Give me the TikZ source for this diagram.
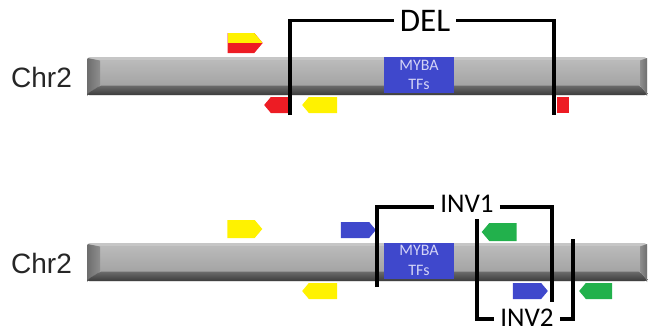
\documentclass[tikz,border=0pt]{standalone}
\usepackage{fontspec}
\setmainfont{Liberation Sans}
\newfontfamily\calib{Carlito}
\usetikzlibrary{shapes.symbols}
\definecolor{myYellow}{HTML}{FFF200}
\definecolor{myRed}{HTML}{ED1C24}
\definecolor{myBlue}{HTML}{3F48CC}
\definecolor{myGreen}{HTML}{22B14C}
\definecolor{tfText}{HTML}{D4D4F6}
\definecolor{faceTop}{HTML}{BABABA}
\definecolor{faceBot}{HTML}{A4A4A4}
\definecolor{edgeTop}{HTML}{C6C6C6}
\definecolor{sideL}{HTML}{8E8E8E}
\definecolor{sideLd}{HTML}{6E6E6E}
\definecolor{botTop}{HTML}{6C6C6C}
\definecolor{botBot}{HTML}{3C3C3C}
\tikzset{
  fwd/.style={signal, signal to=east, inner sep=0pt, minimum width=35pt, minimum height=#1, signal pointer angle=100, fill=myYellow, xshift=-3.5pt},
  fwd/.default=17pt,
  rev/.style={signal, signal to=west, inner sep=0pt, minimum width=35pt, minimum height=#1, signal pointer angle=100, fill=myYellow, xshift=3.5pt},
  rev/.default=16pt,
  bracket/.style={line width=3.2pt, line join=miter, draw=black},
  svlabel/.style={font=\calib\fontsize{#1}{#1}\selectfont, inner sep=0pt, inner xsep=6pt, text=black},
  chrlabel/.style={font=\fontsize{28}{28}\selectfont, text=black!85, inner sep=0pt},
  tfbox/.style={fill=myBlue, inner sep=0pt, minimum width=70pt, minimum height=36pt, text=tfText, align=center, font=\calib\fontsize{16}{19.5}\selectfont},
}
\newcommand\chrbar{%
  \fill[rounded corners=3pt, edgeTop] (87,57) rectangle (647,95);
  \shade[top color=faceTop, bottom color=faceBot] (100,60.5) rectangle (640,85.5);
  \shade[left color=sideLd, right color=sideL] (87.5,58) -- (100,60.5) -- (100,85.5) -- (87.5,94) -- cycle;
  \shade[top color=botTop, bottom color=botBot, rounded corners=2pt] (87,94) -- (100,85.5) -- (640,85.5) -- (647,94) -- (647,95) -- (87,95) -- cycle;
  \shade[left color=sideL, right color=sideLd] (640,60.5) -- (647,58) -- (647,94) -- (640,85.5) -- cycle;
}
\begin{document}
\begin{tikzpicture}[x=1pt, y=-1pt]
\useasboundingbox (0,0) rectangle (648,333);
% ---------- top chromosome ----------
\chrbar
\node[chrlabel] (chrA) at (41.5,77) {Chr2};
\node[tfbox] (tfA) at (419,75) {MYBA\\TFs};
\node[fwd=20pt, fill=myRed, path picture={\fill[myYellow] (path picture bounding box.north west) rectangle ([yshift=0.5pt]path picture bounding box.east);}] (yrA) at (244.5,43) {};
\node[rev, fill=myRed, minimum width=24pt, xshift=-1pt] (rA) at (277,105) {};
\node[rev] (yA) at (319.5,105) {};
\node[fill=myRed, inner sep=0pt, minimum width=12pt, minimum height=16pt] (sqA) at (563,105) {};
\node[svlabel=33] (del) at (425,20.5) {DEL};
\coordinate (delL) at (290,115);
\coordinate (delR) at (554,115);
\draw[bracket] (delL) |- (del.west);
\draw[bracket] (del.east) -| (delR);
% ---------- bottom chromosome ----------
\begin{scope}[shift={(0,186)}]
\chrbar
\end{scope}
\node[chrlabel] (chrB) at (41.5,263.5) {Chr2};
\node[tfbox] (tfB) at (419,260.5) {MYBA\\TFs};
\node[fwd=18pt] (yB) at (244.5,229) {};
\node[rev] (yB2) at (319.5,291) {};
\node[fwd=16pt, fill=myBlue] (bB) at (358.5,230) {};
\node[rev=18pt, fill=myGreen] (gB) at (499.5,232) {};
\node[fwd=16pt, fill=myBlue] (bB2) at (530.5,291) {};
\node[rev, fill=myGreen, minimum width=33pt] (gB2) at (595.5,291) {};
% INV1
\node[svlabel=27] (inv1) at (467,204) {INV1};
\coordinate (i1L) at (377,287);
\coordinate (i1R) at (552,302);
\coordinate (i1T) at (0,207);
\draw[bracket] (i1L) |- (inv1.west |- i1T);
\draw[bracket] (inv1.east |- i1T) -| (i1R);
% INV2
\node[svlabel=27] (inv2) at (527,318) {INV2};
\coordinate (i2L) at (477,219);
\coordinate (i2R) at (573,239);
\coordinate (i2B) at (0,319);
\draw[bracket] (i2L) |- (inv2.west |- i2B);
\draw[bracket] (inv2.east |- i2B) -| (i2R);
\end{tikzpicture}
\end{document}
